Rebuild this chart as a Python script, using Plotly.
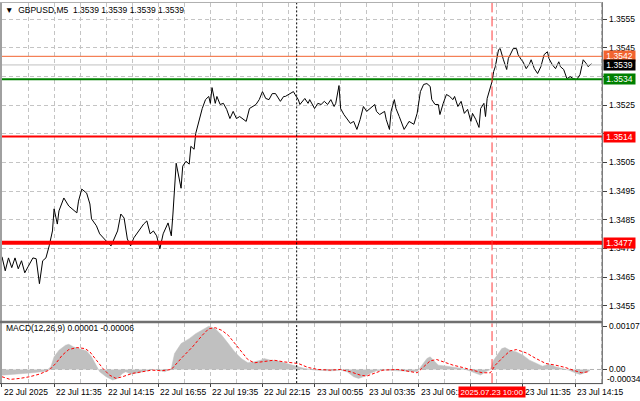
import pandas as pd
import plotly.graph_objects as go

# ---------------- data ----------------
START = pd.Timestamp("2025-07-22 08:55")
BAR = pd.Timedelta(minutes=5)

price_bar = [0, 2, 4, 6, 8, 10, 12, 14, 16, 19, 21, 23, 25, 27, 29, 31, 32, 34, 35, 38,
             41, 43, 46, 47, 49, 52, 54, 55, 58, 60, 61, 64, 67, 69, 71, 73, 75, 77, 79, 81,
             83, 85, 87, 89, 91, 93, 95, 97, 99, 102, 104, 105, 107, 110, 111, 113, 115, 116, 118, 119,
             122, 123, 125, 127, 128, 129, 131, 132, 134, 136, 138, 140, 142, 144, 146, 148, 150, 152, 154, 156,
             158, 160, 162, 164, 166, 168, 171, 173, 174, 177, 179, 180, 182, 183, 186, 188, 189, 192, 194, 196,
             198, 200, 202, 204, 205, 207, 208, 210, 212, 214, 216, 218, 220, 222, 224, 226, 229, 230, 232, 235,
             236, 238, 239, 241, 242, 244, 247, 249, 250, 253, 255, 257, 259, 261, 263, 264, 266, 268, 269, 271,
             273, 275, 277, 278, 280, 282, 284, 286, 288, 289, 291, 293, 294, 296, 297, 298, 299, 301, 302, 303,
             305, 306, 308, 310, 311, 314, 316, 317, 319, 320, 322, 324, 325, 327, 329, 331, 333, 335, 336, 338,
             340, 342, 343, 345, 347, 349, 351, 353, 355, 357, 359, 360, 362]
price_close = [1.34721, 1.34672, 1.34717, 1.34683, 1.34717, 1.34679, 1.34707, 1.34665, 1.34686, 1.34717,
               1.34714, 1.34627, 1.34707, 1.34717, 1.34759, 1.34811, 1.34888, 1.34835, 1.34881, 1.34926,
               1.34898, 1.34888, 1.34874, 1.34915, 1.34957, 1.34943, 1.34905, 1.34853, 1.34829, 1.34801,
               1.34794, 1.34776, 1.34759, 1.34783, 1.34811, 1.34870, 1.34856, 1.34783, 1.34759, 1.34787,
               1.34804, 1.34818, 1.34835, 1.34846, 1.34801, 1.34811, 1.34794, 1.34749, 1.34801, 1.34839,
               1.34794, 1.34870, 1.35047, 1.34960, 1.35037, 1.35054, 1.35044, 1.35106, 1.35096, 1.35151,
               1.35221, 1.35238, 1.35269, 1.35280, 1.35256, 1.35311, 1.35256, 1.35280, 1.35252, 1.35256,
               1.35235, 1.35203, 1.35228, 1.35203, 1.35210, 1.35200, 1.35193, 1.35238, 1.35245, 1.35252,
               1.35269, 1.35297, 1.35273, 1.35269, 1.35290, 1.35290, 1.35263, 1.35280, 1.35280, 1.35290,
               1.35297, 1.35287, 1.35269, 1.35252, 1.35273, 1.35256, 1.35269, 1.35238, 1.35256, 1.35252,
               1.35263, 1.35252, 1.35269, 1.35245, 1.35256, 1.35318, 1.35238, 1.35217, 1.35203, 1.35186,
               1.35193, 1.35165, 1.35200, 1.35245, 1.35228, 1.35238, 1.35252, 1.35228, 1.35217, 1.35228,
               1.35200, 1.35165, 1.35228, 1.35269, 1.35238, 1.35210, 1.35165, 1.35183, 1.35193, 1.35183,
               1.35221, 1.35297, 1.35322, 1.35325, 1.35315, 1.35269, 1.35252, 1.35252, 1.35217, 1.35256,
               1.35287, 1.35280, 1.35269, 1.35280, 1.35245, 1.35263, 1.35221, 1.35235, 1.35193, 1.35221,
               1.35200, 1.35172, 1.35238, 1.35256, 1.35210, 1.35273, 1.35290, 1.35332, 1.35367, 1.35384,
               1.35443, 1.35447, 1.35408, 1.35374, 1.35412, 1.35447, 1.35447, 1.35426, 1.35408, 1.35401,
               1.35377, 1.35394, 1.35408, 1.35377, 1.35360, 1.35384, 1.35426, 1.35436, 1.35412, 1.35391,
               1.35377, 1.35401, 1.35384, 1.35374, 1.35342, 1.35349, 1.35342, 1.35339, 1.35356, 1.35408,
               1.35394, 1.35384, 1.35394]

macd_bar = [0, 9, 19, 27, 30, 32, 35, 39, 41, 44, 48, 52, 55, 58, 60, 64, 68, 71, 74, 76,
            79, 84, 88, 92, 96, 100, 104, 106, 110, 115, 119, 123, 127, 131, 135, 139, 143, 147, 151, 155,
            159, 161, 165, 169, 173, 178, 182, 186, 192, 202, 208, 212, 216, 219, 222, 226, 230, 236, 243, 249,
            255, 258, 261, 263, 265, 268, 273, 279, 283, 287, 291, 294, 297, 300, 302, 305, 307, 309, 312, 316,
            320, 324, 328, 332, 336, 340, 344, 348, 352, 355, 358, 361]
macd_main = [-0.00014, -0.000115, -0.000082, -0.000041, 0.000066, 0.000312, 0.000476, 0.000599, 0.000623, 0.000558,
             0.000517, 0.000459, 0.000312, 0.000107, -0.000057, -0.00018, -0.000262, -0.000221, -0.000098, -0.000057,
             -0.000115, -0.000082, -0.000033, 0.0, -0.000016, -0.000057, 0.000025, 0.000394, 0.00064, 0.000763,
             0.000886, 0.000968, 0.00107, 0.001009, 0.000845, 0.00064, 0.000435, 0.000271, 0.000164, 0.000189,
             0.00023, 0.000271, 0.00023, 0.000213, 0.000164, 0.000107, 0.000066, 0.000025, -0.000016, -0.000033,
             -0.000016, -0.000057, -0.00018, -0.000221, -0.00018, -0.000098, -0.000033, -0.000016, -0.000033, -0.000057,
             -0.000057, 0.000107, 0.000271, 0.000312, 0.00023, 0.000107, 0.000082, 0.000049, 0.000025, -0.000033,
             -0.000098, -0.000139, -0.000057, 0.0, 0.00023, 0.000394, 0.000517, 0.000541, 0.000476, 0.000435,
             0.000353, 0.00023, 0.000148, 0.000082, 0.000131, 0.000066, 0.000025, -0.000016, -0.000082, -0.000123,
             -0.000082, -0.000033]

signal_bar = [0, 5, 11, 17, 23, 29, 33, 37, 41, 46, 51, 54, 58, 62, 66, 70, 74, 80, 86, 92,
              98, 104, 110, 117, 123, 127, 131, 135, 139, 143, 147, 151, 155, 161, 167, 173, 182, 188, 194, 202,
              208, 214, 220, 224, 228, 234, 243, 249, 255, 259, 263, 267, 271, 277, 283, 289, 295, 300, 303, 308,
              312, 316, 322, 328, 334, 340, 346, 352, 356, 360]
macd_signal = [-0.00018, -0.000246, -0.000221, -0.00018, -0.000115, -0.000016, 0.000148, 0.000353, 0.000492, 0.000541,
               0.000517, 0.000435, 0.00023, 0.000025, -0.000139, -0.000221, -0.00018, -0.000098, -0.000057, -0.000016,
               -0.000033, 0.0, 0.000271, 0.000558, 0.000845, 0.001009, 0.001033, 0.000968, 0.000845, 0.00064,
               0.000435, 0.000246, 0.000164, 0.000189, 0.00023, 0.000189, 0.000148, 0.000049, 0.0, -0.000016,
               0.0, -0.000057, -0.000139, -0.000164, -0.000098, -0.000016, 0.0, -0.000041, -0.000082, 0.000066,
               0.000213, 0.000246, 0.000189, 0.000107, 0.000049, -0.000016, -0.000082, -0.000082, 0.000107, 0.000312,
               0.000459, 0.000492, 0.00041, 0.000271, 0.000148, 0.000107, 0.000049, -0.000033, -0.000082, -0.000057]

price_ticks = [1.3455, 1.3465, 1.3475, 1.3485, 1.3495, 1.3505, 1.3515, 1.3525, 1.3535, 1.3545, 1.3555]
# labels hidden behind the level boxes in the reference are left blank
hidden_ticks = [1.3515, 1.3535]
level_prices = [1.3542, 1.3539, 1.3534, 1.3514, 1.3477]
level_labels = ["1.3542", "1.3539", "1.3534", "1.3514", "1.3477"]
macd_ticks = [0.00107, 0.0, -0.00034]
macd_tick_text = ["0.00107", "0.00", "-0.00034"]

x_label_times = ["2025-07-22 08:55", "2025-07-22 11:35", "2025-07-22 14:15", "2025-07-22 16:55",
                 "2025-07-22 19:35", "2025-07-22 22:15", "2025-07-23 00:55", "2025-07-23 03:35",
                 "2025-07-23 06:15", "2025-07-23 11:35", "2025-07-23 14:15"]
x_label_text = ["22 Jul 2025", "22 Jul 11:35", "22 Jul 14:15", "22 Jul 16:55", "22 Jul 19:35",
                "22 Jul 22:15", "23 Jul 00:55", "23 Jul 03:35", "23 Jul 06:15",
                "23 Jul 11:35", "23 Jul 14:15"]
day_separator = "2025-07-23 00:00"
marker_time = "2025-07-23 10:00"
marker_text = "2025.07.23 10:00"
title_text = "\u25BC  GBPUSD,M5  1.3539 1.3539 1.3539 1.3539"
macd_title = "MACD(12,26,9) 0.00001 -0.00006"

# ---------------- styling / geometry ----------------
W, H = 640, 401
FONT = "Liberation Sans"
FS = 8.5
GRID = "#c4c4c4"
GRIDDASH = "4px,3px"


def px(v):
    return v / W


def py(v):
    return 1 - v / H


t_price = [START + b * BAR for b in price_bar]
t_macd = [START + b * BAR for b in macd_bar]
t_sig = [START + b * BAR for b in signal_bar]
x_end = START + pd.Timedelta(minutes=5 * 368.7)
ms80 = 80 * 60 * 1000
ms160 = 160 * 60 * 1000

fig = go.Figure()
fig.add_trace(go.Scatter(x=t_price, y=price_close, mode="lines",
                         line=dict(color="black", width=1), xaxis="x", yaxis="y",
                         hoverinfo="skip"))
fig.add_trace(go.Scatter(x=t_macd, y=macd_main, mode="lines", fill="tozeroy",
                         fillcolor="#c0c0c0", line=dict(color="#c0c0c0", width=0.5),
                         xaxis="x2", yaxis="y2", hoverinfo="skip"))
fig.add_trace(go.Scatter(x=t_sig, y=macd_signal, mode="lines",
                         line=dict(color="#ff0000", width=1, dash="3px,2px"),
                         xaxis="x2", yaxis="y2", hoverinfo="skip"))

xdom = [px(2), px(607)]
common_x = dict(domain=xdom, type="date", range=[START, x_end], showticklabels=False,
                tick0=START, showline=False, zeroline=False, fixedrange=True)
fig.update_layout(
    width=W, height=H, margin=dict(l=0, r=0, t=0, b=0),
    paper_bgcolor="white", plot_bgcolor="white", showlegend=False,
    font=dict(family=FONT, size=FS, color="black"),
    xaxis=dict(**common_x, anchor="y", dtick=ms80, showgrid=True, gridcolor=GRID,
               griddash=GRIDDASH, gridwidth=1, ticks=""),
    xaxis2=dict(**common_x, anchor="y2", matches="x", dtick=ms160, showgrid=True,
                gridcolor=GRID, griddash=GRIDDASH, gridwidth=1, ticks="outside",
                ticklen=3, tickcolor="#404040",
                minor=dict(dtick=ms80, tick0=START, showgrid=True, gridcolor=GRID,
                           griddash=GRIDDASH, ticks="")),
    yaxis=dict(domain=[py(320), py(1)], anchor="x", side="right",
               range=[1.34499, 1.35606], tickvals=price_ticks,
               ticktext=["" if v in hidden_ticks else f"{v:.4f}" for v in price_ticks],
               ticks="outside", ticklen=4, tickcolor="#404040",
               tickfont=dict(family=FONT, size=FS, color="black"),
               showgrid=True, gridcolor=GRID, griddash=GRIDDASH, zeroline=False,
               showline=False, fixedrange=True),
    yaxis2=dict(domain=[py(383), py(323)], anchor="x2", side="right",
                range=[-0.000337, 0.00114], tickvals=macd_ticks,
                ticktext=[macd_tick_text[0], macd_tick_text[1], ""],
                ticks="outside", ticklen=4, tickcolor="#404040",
                tickfont=dict(family=FONT, size=FS, color="black"),
                showgrid=False, zeroline=False, showline=False, fixedrange=True),
)

shapes = []
# MACD zero dashed line
shapes.append(dict(type="line", xref="x2 domain", yref="y2", x0=0, x1=1, y0=0, y1=0,
                   line=dict(color="#b0b0b0", width=1, dash=GRIDDASH), layer="below"))
# level lines
level_styles = [("#f26430", 1), ("#c0c0c0", 1), ("#008000", 2), ("#ff0000", 2), ("#ff0000", 4)]
for lv, (col, wd) in zip(level_prices, level_styles):
    shapes.append(dict(type="line", xref="x domain", yref="y", x0=0, x1=1, y0=lv, y1=lv,
                       line=dict(color=col, width=wd), layer="above"))
# vertical markers through both panels
for yr in ["y domain", "y2 domain"]:
    xr = "x" if yr == "y domain" else "x2"
    shapes.append(dict(type="line", xref=xr, yref=yr, x0=day_separator, x1=day_separator,
                       y0=0, y1=1, line=dict(color="black", width=1, dash="2px,2px")))
    shapes.append(dict(type="line", xref=xr, yref=yr, x0=marker_time, x1=marker_time,
                       y0=0, y1=1, line=dict(color="#ff3b3b", width=1, dash="10px,4px")))
# frame
shapes += [
    dict(type="line", xref="paper", yref="paper", x0=px(1), x1=px(1), y0=py(0), y1=py(384),
         line=dict(color="#a0a0a0", width=2)),
    dict(type="line", xref="paper", yref="paper", x0=px(607), x1=px(607), y0=py(0), y1=py(384),
         line=dict(color="#505050", width=1)),
    dict(type="line", xref="paper", yref="paper", x0=0, x1=px(607), y0=py(0.5), y1=py(0.5),
         line=dict(color="#b0b0b0", width=1)),
    dict(type="line", xref="paper", yref="paper", x0=0, x1=px(607), y0=py(321.5), y1=py(321.5),
         line=dict(color="#707070", width=2.5)),
    dict(type="line", xref="paper", yref="paper", x0=0, x1=px(607), y0=py(383.5), y1=py(383.5),
         line=dict(color="#505050", width=1)),
]

annotations = []
annotations.append(dict(text=title_text, xref="paper", yref="paper", x=px(3), y=py(8),
                        xanchor="left", yanchor="middle", showarrow=False,
                        font=dict(family=FONT, size=FS, color="black")))
annotations.append(dict(text=macd_title, xref="paper", yref="paper", x=px(4), y=py(328),
                        xanchor="left", yanchor="middle", showarrow=False,
                        font=dict(family=FONT, size=FS, color="black")))
annotations.append(dict(text=macd_tick_text[2], xref="paper", yref="paper", x=px(610), y=py(378.5),
                        xanchor="left", yanchor="middle", showarrow=False,
                        font=dict(family=FONT, size=FS, color="black")))
for t, txt in zip(x_label_times, x_label_text):
    annotations.append(dict(text=txt, xref="x2", yref="paper", x=t, y=py(392),
                            xanchor="left", yanchor="middle", showarrow=False,
                            font=dict(family=FONT, size=FS, color="black")))
annotations.append(dict(text=marker_text, xref="x2", yref="paper", x=marker_time, y=py(391.5),
                        xanchor="center", yanchor="middle", showarrow=False, bgcolor="#ff0000",
                        width=64, height=8, borderpad=1,
                        font=dict(family=FONT, size=8, color="white")))
box_colors = ["#f26430", "#000000", "#008000", "#ff0000", "#ff0000"]
for lv, lab, col in zip(level_prices, level_labels, box_colors):
    annotations.append(dict(text=lab, xref="paper", yref="y", x=px(607.5), y=lv,
                            xanchor="left", yanchor="middle", showarrow=False, bgcolor=col,
                            width=29, height=8, borderpad=1,
                            font=dict(family=FONT, size=FS, color="white")))

fig.update_layout(shapes=shapes, annotations=annotations)
fig.write_html("out.html", post_script="document.body.style.margin='0';",
               config={"displayModeBar": False, "staticPlot": True})
